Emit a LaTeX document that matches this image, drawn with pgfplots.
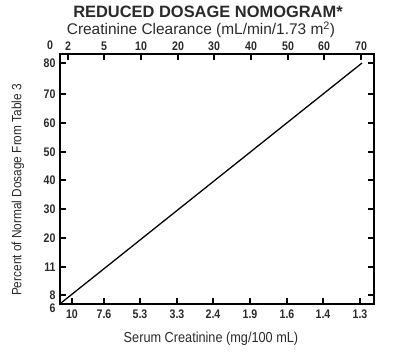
\documentclass[border=0pt]{standalone}
\usepackage{fontspec}
\setmainfont{Liberation Sans}
\newfontfamily\cond[FakeStretch=0.88]{Liberation Sans}
\newfontfamily\tickf[FakeStretch=0.85]{Liberation Sans}
\usepackage{pgfplots}
\pgfplotsset{compat=1.18}
\definecolor{txt}{HTML}{2A2A2A}
\pgfplotsset{
  nomo/.style={
    scale only axis, width=314bp, height=250bp,
    xmin=60, xmax=374, ymin=53, ymax=303,
    at={(60bp,53bp)}, anchor=south west,
    axis line style={line width=2.6pt, black},
    tick align=inside, major tick length=6bp,
    tick style={line width=1.3pt, black},
    ticklabel style={font=\tickf\bfseries\fontsize{12.5}{13}\selectfont, text=txt},
  }
}
\begin{document}
\begin{tikzpicture}[x=1bp,y=1bp]
\useasboundingbox (0,0) rectangle (400,357);
\begin{axis}[nomo,
  xtick={72,104,140,177,213,250,287,323,360},
  xticklabels={10,7.6,5.3,3.3,2.4,1.9,1.6,1.4,1.3},
  xtick pos=left, xticklabel pos=left,
  xticklabel style={yshift=-2bp},
  ytick={62,90,119,148,177,205,234,263,294},
  yticklabels={8,11,20,30,40,50,60,70,80},
  ytick pos=both, yticklabel pos=left,
  yticklabel style={xshift=-1bp},
  extra y ticks={53},
  extra y tick labels={6},
  extra y tick style={yticklabel style={yshift=-4bp}},
]
\addplot[black, line width=1.3pt] coordinates {(61,54) (362,294)};
\end{axis}
\begin{axis}[nomo,
  xtick={68,104,141,178,214,251,288,324,361},
  xticklabels={2,5,10,20,30,40,50,60,70},
  xtick pos=right, xticklabel pos=right,
  ytick=\empty,
]
\end{axis}
\node[text=txt, font=\tickf\bfseries\fontsize{12.5}{13}\selectfont] at (50,312) {0};
\node[inner sep=0pt, text=txt, font=\bfseries\fontsize{16.5}{18}\selectfont] at (208,345) {REDUCED DOSAGE NOMOGRAM*};
\node[inner sep=0pt, text=txt, font=\fontsize{15.5}{17}\selectfont] at (201,327) {Creatinine Clearance (mL/min/1.73 m\textsuperscript{2})};
\node[text=txt, font=\cond\fontsize{14.5}{16}\selectfont] at (211,18) {Serum Creatinine (mg/100 mL)};
\node[text=txt, font=\cond\fontsize{13.5}{15}\selectfont, rotate=90] at (18,167) {Percent of Normal Dosage From Table 3};
\end{tikzpicture}
\end{document}
